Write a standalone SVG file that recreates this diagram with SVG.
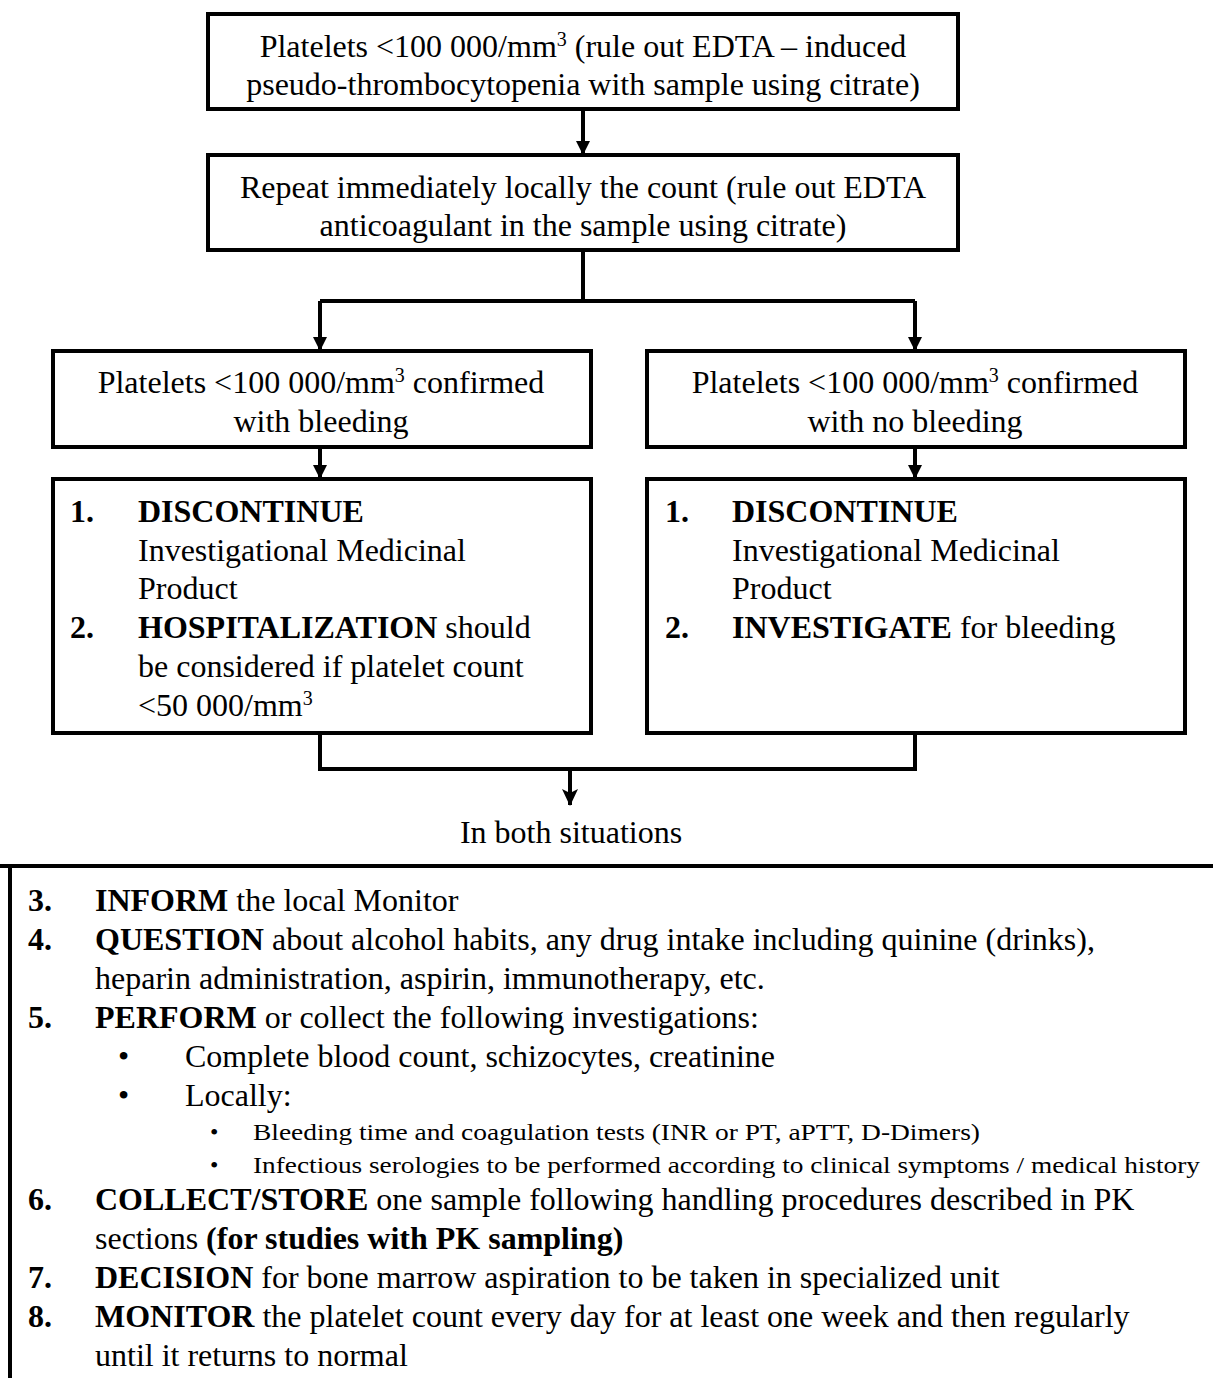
<svg xmlns="http://www.w3.org/2000/svg" width="1213" height="1378" viewBox="0 0 1213 1378">
<defs>
<style>
text{font-family:"Liberation Serif","Times New Roman",serif;font-size:32px;fill:#000}
.c{text-anchor:middle}
.b{font-weight:bold}
.s{font-size:24px}
.box{fill:#fff;stroke:#000;stroke-width:4}
.ln{fill:none;stroke:#000;stroke-width:4}
</style>
<marker id="ah" markerWidth="14" markerHeight="14" refX="12" refY="7" orient="auto" markerUnits="userSpaceOnUse" viewBox="0 0 14 14">
<path d="M0,0 L14,7 L0,14 z" fill="#000"/>
</marker>
<marker id="ah2" markerWidth="18" markerHeight="18" refX="16" refY="9" orient="auto" markerUnits="userSpaceOnUse" viewBox="0 0 18 18">
<path d="M0,1 L17,9 L0,17 L4,9 z" fill="#000"/>
</marker>
</defs>
<rect width="1213" height="1378" fill="#fff"/>
<g id="connectors">
<path class="ln" d="M583,109 V153" marker-end="url(#ah)"/>
<path class="ln" d="M583,250 V301"/>
<path class="ln" d="M320,301 H915"/>
<path class="ln" d="M320,301 V349" marker-end="url(#ah)"/>
<path class="ln" d="M915,301 V349" marker-end="url(#ah)"/>
<path class="ln" d="M320,447 V477" marker-end="url(#ah)"/>
<path class="ln" d="M915,447 V477" marker-end="url(#ah)"/>
<path class="ln" d="M320,733 V769 H915 V733"/>
<path class="ln" d="M570,769 V805" marker-end="url(#ah2)"/>
</g>
<g id="n1">
<rect class="box" x="208" y="14" width="750" height="95"/>
<text class="c" x="583" y="57">Platelets &lt;100 000/mm<tspan font-size="20" dy="-11">3</tspan><tspan dy="11"> (rule out EDTA – induced</tspan></text>
<text class="c" x="583" y="95">pseudo-thrombocytopenia with sample using citrate)</text>
</g>
<g id="n2">
<rect class="box" x="208" y="155" width="750" height="95"/>
<text class="c" x="583" y="198">Repeat immediately locally the count (rule out EDTA</text>
<text class="c" x="583" y="236">anticoagulant in the sample using citrate)</text>
</g>
<g id="n3">
<rect class="box" x="53" y="351" width="538" height="96"/>
<text class="c" x="321" y="393">Platelets &lt;100 000/mm<tspan font-size="20" dy="-11">3</tspan><tspan dy="11"> confirmed</tspan></text>
<text class="c" x="321" y="432">with bleeding</text>
</g>
<g id="n4">
<rect class="box" x="647" y="351" width="538" height="96"/>
<text class="c" x="915" y="393">Platelets &lt;100 000/mm<tspan font-size="20" dy="-11">3</tspan><tspan dy="11"> confirmed</tspan></text>
<text class="c" x="915" y="432">with no bleeding</text>
</g>
<g id="n5">
<rect class="box" x="53" y="479" width="538" height="254"/>
<text class="b" x="70" y="522">1.</text>
<text class="b" x="138" y="522">DISCONTINUE</text>
<text x="138" y="561">Investigational  Medicinal</text>
<text x="138" y="599">Product</text>
<text class="b" x="70" y="638">2.</text>
<text x="138" y="638"><tspan font-weight="bold">HOSPITALIZATION</tspan> should</text>
<text x="138" y="677">be considered if platelet count</text>
<text x="138" y="716">&lt;50 000/mm<tspan font-size="20" dy="-11">3</tspan></text>
</g>
<g id="n6">
<rect class="box" x="647" y="479" width="538" height="254"/>
<text class="b" x="665" y="522">1.</text>
<text class="b" x="732" y="522">DISCONTINUE</text>
<text x="732" y="561">Investigational  Medicinal</text>
<text x="732" y="599">Product</text>
<text class="b" x="665" y="638">2.</text>
<text x="732" y="638"><tspan font-weight="bold">INVESTIGATE</tspan> for bleeding</text>
</g>
<g id="n7">
<text class="c" x="571" y="843" font-size="30">In both situations</text>
</g>
<g id="n8">
<path class="ln" d="M0,866 H1213 M10,866 V1378"/>
<text class="b" x="28" y="911">3.</text>
<text x="95" y="911"><tspan font-weight="bold">INFORM</tspan> the local Monitor</text>
<text class="b" x="28" y="950">4.</text>
<text x="95" y="950"><tspan font-weight="bold">QUESTION</tspan> about alcohol habits, any drug intake including quinine (drinks),</text>
<text x="95" y="989">heparin administration, aspirin, immunotherapy, etc.</text>
<text class="b" x="28" y="1028">5.</text>
<text x="95" y="1028"><tspan font-weight="bold">PERFORM</tspan> or collect the following investigations:</text>
<text x="118" y="1067">•</text>
<text x="185" y="1067">Complete blood count, schizocytes, creatinine</text>
<text x="118" y="1106">•</text>
<text x="185" y="1106">Locally:</text>
<text class="s" x="210" y="1140">•</text>
<text class="s" x="253" y="1140" textLength="727" lengthAdjust="spacingAndGlyphs">Bleeding time and coagulation tests (INR or PT, aPTT, D-Dimers)</text>
<text class="s" x="210" y="1173">•</text>
<text class="s" x="253" y="1173" textLength="947" lengthAdjust="spacingAndGlyphs">Infectious serologies to be performed according to clinical symptoms / medical history</text>
<text class="b" x="28" y="1210">6.</text>
<text x="95" y="1210"><tspan font-weight="bold">COLLECT/STORE</tspan> one sample following handling procedures described in PK</text>
<text x="95" y="1249">sections <tspan font-weight="bold">(for studies with PK sampling)</tspan></text>
<text class="b" x="28" y="1288">7.</text>
<text x="95" y="1288"><tspan font-weight="bold">DECISION</tspan> for bone marrow aspiration to be taken in specialized unit</text>
<text class="b" x="28" y="1327">8.</text>
<text x="95" y="1327"><tspan font-weight="bold">MONITOR</tspan> the platelet count every day for at least one week and then regularly</text>
<text x="95" y="1366">until it returns to normal</text>
</g>
</svg>
